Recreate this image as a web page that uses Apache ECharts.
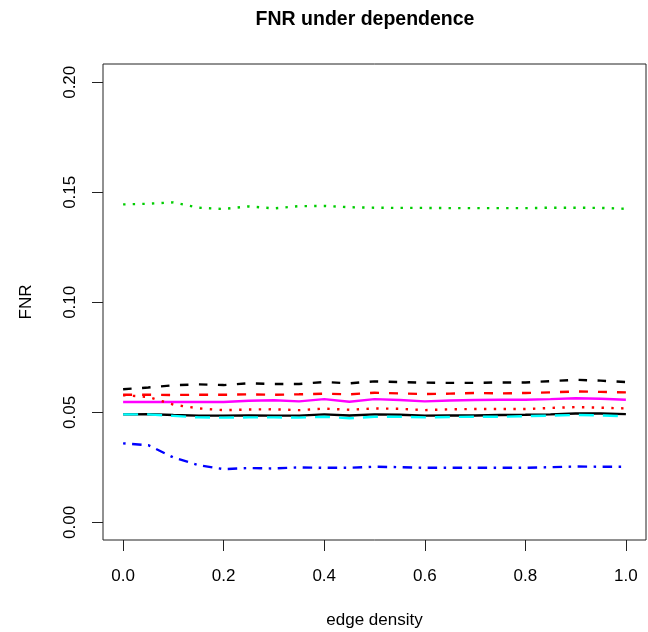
<!DOCTYPE html>
<html>
<head>
<meta charset="utf-8">
<title>FNR under dependence</title>
<script src="https://cdn.jsdelivr.net/npm/echarts@6/dist/echarts.min.js"></script>
<style>
    html, body { margin: 0; padding: 0; background: #fff; }
    #chart { width: 648px; height: 632px; }
</style>
</head>
<body>
<div id="chart"></div>
<script>
// 横轴取值 (edge density)
const edgeDensity = [0, 0.05, 0.1, 0.15, 0.2, 0.25, 0.3, 0.35, 0.4, 0.45, 0.5,
    0.55, 0.6, 0.65, 0.7, 0.75, 0.8, 0.85, 0.9, 0.95, 1];

// 各条曲线的 FNR
const greenDotted = [0.1445, 0.1448, 0.1454, 0.1430, 0.1424, 0.1436, 0.1427, 0.1437, 0.1438, 0.1432, 0.1430,
    0.1429, 0.1429, 0.1428, 0.1428, 0.1428, 0.1428, 0.1430, 0.1430, 0.1429, 0.1425];
const blackDashed = [0.0605, 0.0613, 0.0623, 0.0627, 0.0624, 0.0632, 0.0629, 0.0629, 0.0638, 0.0632, 0.0641,
    0.0638, 0.0635, 0.0634, 0.0634, 0.0636, 0.0636, 0.0642, 0.0648, 0.0644, 0.0638];
const redDashed = [0.0580, 0.0580, 0.0579, 0.0580, 0.0580, 0.0582, 0.0580, 0.0582, 0.0585, 0.0582, 0.0589,
    0.0586, 0.0583, 0.0585, 0.0588, 0.0586, 0.0588, 0.0591, 0.0595, 0.0593, 0.0591];
const magentaSolid = [0.0547, 0.0547, 0.0547, 0.0547, 0.0547, 0.0553, 0.0555, 0.0550, 0.0560, 0.0548, 0.0560,
    0.0556, 0.0550, 0.0554, 0.0556, 0.0557, 0.0557, 0.0560, 0.0564, 0.0562, 0.0557];
const redDotted = [0.0578, 0.0570, 0.0535, 0.0518, 0.0510, 0.0513, 0.0514, 0.0510, 0.0517, 0.0512, 0.0518,
    0.0516, 0.0510, 0.0514, 0.0515, 0.0515, 0.0515, 0.0520, 0.0524, 0.0521, 0.0518];
const blackSolid = [0.0491, 0.0492, 0.0488, 0.0485, 0.0485, 0.0486, 0.0485, 0.0485, 0.0491, 0.0486, 0.0491,
    0.0489, 0.0485, 0.0486, 0.0486, 0.0488, 0.0489, 0.0491, 0.0495, 0.0495, 0.0492];
const cyanDashed = [0.0491, 0.0491, 0.0484, 0.0477, 0.0476, 0.0477, 0.0477, 0.0476, 0.0480, 0.0473, 0.0480,
    0.0480, 0.0477, 0.0479, 0.0480, 0.0480, 0.0483, 0.0485, 0.0488, 0.0486, 0.0482];
const blueDotDash = [0.0359, 0.0351, 0.0295, 0.0260, 0.0242, 0.0247, 0.0245, 0.0250, 0.0248, 0.0248, 0.0253,
    0.0251, 0.0248, 0.0248, 0.0248, 0.0248, 0.0248, 0.0251, 0.0254, 0.0253, 0.0253];

// 刻度
const xTicks = [0, 0.2, 0.4, 0.6, 0.8, 1];
const yTicks = [0, 0.05, 0.1, 0.15, 0.2];

const FONT = '"Liberation Sans", Arial, Helvetica, sans-serif';

function makeLine(values, color, dash) {
    return {
        type: 'line',
        data: values.map((v, i) => [edgeDensity[i], v]),
        showSymbol: false,
        symbol: 'none',
        silent: true,
        animation: false,
        lineStyle: { color: color, width: 2.4, type: dash, cap: 'butt' }
    };
}

const chart = echarts.init(document.getElementById('chart'), null, { renderer: 'canvas' });
chart.setOption({
    backgroundColor: '#fff',
    animation: false,
    title: {
        text: 'FNR under dependence',
        left: 360, top: 5, textAlign: 'center',
        textStyle: { fontFamily: FONT, fontSize: 19.5, fontWeight: 'bold', color: '#000' }
    },
    grid: {
        left: 103, top: 64, width: 543, height: 476,
        show: true, borderColor: '#222', borderWidth: 1,
        outerBoundsMode: 'none'
    },
    xAxis: {
        type: 'value', min: -0.04, max: 1.04,
        name: 'edge density', nameLocation: 'middle', nameGap: 72,
        nameTextStyle: { fontFamily: FONT, fontSize: 17, color: '#000' },
        axisLine: { show: false, onZero: false },
        splitLine: { show: false },
        axisTick: { show: true, length: 11, customValues: xTicks, lineStyle: { color: '#222' } },
        axisLabel: {
            customValues: xTicks, margin: 28,
            fontFamily: FONT, fontSize: 17, color: '#000',
            formatter: v => v.toFixed(1)
        }
    },
    yAxis: {
        type: 'value', min: -0.008, max: 0.2083,
        name: 'FNR', nameLocation: 'middle', nameGap: 68,
        nameTextStyle: { fontFamily: FONT, fontSize: 17, color: '#000' },
        axisLine: { show: false, onZero: false },
        splitLine: { show: false },
        axisTick: { show: true, length: 11, customValues: yTicks, lineStyle: { color: '#222' } },
        axisLabel: {
            customValues: yTicks, margin: 24, rotate: 90,
            fontFamily: FONT, fontSize: 17, color: '#000',
            formatter: v => v.toFixed(2)
        }
    },
    series: [
        makeLine(greenDotted, '#00CD00', [2.4, 7.2]),
        makeLine(blackDashed, '#000000', [8.5, 10.5]),
        makeLine(redDashed, '#FF0000', [9, 10]),
        makeLine(magentaSolid, '#FF00FF', 'solid'),
        makeLine(redDotted, '#FF0000', [2.4, 7.4]),
        makeLine(blackSolid, '#000000', 'solid'),
        makeLine(cyanDashed, '#00FFFF', [15, 9]),
        makeLine(blueDotDash, '#0000FF', [2.5, 6.5, 9.5, 6.5])
    ]
});
</script>
</body>
</html>
